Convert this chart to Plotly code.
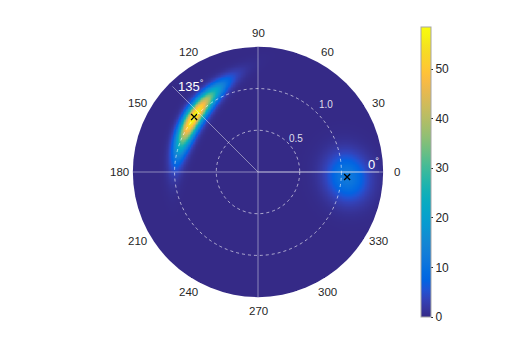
import numpy as np
import plotly.graph_objects as go

# peaks of the density (radius, angle in degrees, height)
peak_r = [1.01, 1.07]
peak_theta = [139.3, -3.2]
peak_value = [58.5, 12.0]
# spread of each peak: along its long axis, across it, long axis direction, bend
spread_long = [0.30, 0.20]
spread_cross = [0.068, 0.17]
spread_dir = [58.0, 105.0]
spread_bend = [0.3, 0.0]

ring_radii = [0.5, 1.0]
ring_labels = ["0.5", "1.0"]
angle_ticks = list(range(0, 360, 30))
marked_angles = [135, 0]
outer_r = 1.5

# parula (MATLAB) colormap
parula_rgb = [
    (0.2081, 0.1663, 0.5292), (0.2123, 0.2138, 0.6270), (0.1959, 0.2645, 0.7279),
    (0.1253, 0.3242, 0.8303), (0.0117, 0.3875, 0.8820), (0.0165, 0.4266, 0.8786),
    (0.0498, 0.4586, 0.8641), (0.0723, 0.4887, 0.8467), (0.0793, 0.5200, 0.8312),
    (0.0641, 0.5570, 0.8240), (0.0343, 0.5966, 0.8199), (0.0239, 0.6287, 0.8038),
    (0.0228, 0.6535, 0.7768), (0.0384, 0.6743, 0.7436), (0.0843, 0.6928, 0.7062),
    (0.1453, 0.7098, 0.6646), (0.2178, 0.7250, 0.6193), (0.3022, 0.7376, 0.5712),
    (0.3953, 0.7459, 0.5244), (0.4871, 0.7491, 0.4840), (0.5709, 0.7485, 0.4494),
    (0.6473, 0.7456, 0.4188), (0.7184, 0.7411, 0.3905), (0.7858, 0.7356, 0.3633),
    (0.8507, 0.7299, 0.3360), (0.9139, 0.7258, 0.3063), (0.9739, 0.7314, 0.2666),
    (0.9990, 0.7653, 0.2164), (0.9880, 0.8066, 0.1794), (0.9697, 0.8481, 0.1475),
    (0.9589, 0.8949, 0.1132), (0.9661, 0.9514, 0.0755), (0.9763, 0.9831, 0.0538),
]
k = len(parula_rgb) - 1
parula = [[i / k, "rgb(%d,%d,%d)" % tuple(round(c * 255) for c in rgb)]
          for i, rgb in enumerate(parula_rgb)]
bg = parula[0][1]

# density on a grid
g = np.linspace(-outer_r, outer_r, 401)
X, Y = np.meshgrid(g, g)
Z = np.zeros_like(X)
for r, th, h, sl, sc, d, b in zip(peak_r, peak_theta, peak_value,
                                  spread_long, spread_cross, spread_dir, spread_bend):
    cx, cy = r * np.cos(np.radians(th)), r * np.sin(np.radians(th))
    a = np.radians(d)
    u = (X - cx) * np.cos(a) + (Y - cy) * np.sin(a)
    v = -(X - cx) * np.sin(a) + (Y - cy) * np.cos(a) + b * u ** 2
    Z += h * np.exp(-0.5 * (u / sl) ** 2 - 0.5 * (v / sc) ** 2)
Z[np.hypot(X, Y) > outer_r - 0.01] = np.nan

# page body has an 8px margin, so the figure is 8px smaller
fig = go.Figure()
fig.add_trace(go.Heatmap(
    x=g, y=g, z=Z, colorscale=parula, zmin=0, zmax=max(peak_value),
    hoverinfo="skip",
    colorbar=dict(
        x=(413 - 104) / 292, xanchor="left", xpad=0,
        y=0.5, yanchor="middle", ypad=0, len=290 / 292, lenmode="fraction",
        thickness=10, outlinewidth=1, outlinecolor="#a6a6a6",
        tickvals=[0, 10, 20, 30, 40, 50], ticks="outside", ticklen=2,
        tickcolor="#262626", tickfont=dict(size=12, color="#262626"),
    ),
))

# peak markers
fig.add_trace(go.Scatter(
    x=[r * np.cos(np.radians(t)) for r, t in zip(peak_r, peak_theta)],
    y=[r * np.sin(np.radians(t)) for r, t in zip(peak_r, peak_theta)],
    mode="markers", hoverinfo="skip",
    marker=dict(symbol="x-thin", size=6, line=dict(width=1.3, color="black")),
))

shapes = [dict(type="circle", xref="x", yref="y", x0=-outer_r, y0=-outer_r,
               x1=outer_r, y1=outer_r, fillcolor=bg, line_width=0, layer="below")]
grid = "rgba(230,230,240,0.5)"
shapes += [dict(type="line", x0=-outer_r, y0=0, x1=outer_r, y1=0,
                line=dict(color=grid, width=1)),
           dict(type="line", x0=0, y0=-outer_r, x1=0, y1=outer_r,
                line=dict(color=grid, width=1))]
for rr in ring_radii:
    shapes.append(dict(type="circle", x0=-rr, y0=-rr, x1=rr, y1=rr,
                       line=dict(color="rgba(255,255,255,0.6)", width=1, dash="3px,3px")))
for ang in marked_angles:
    shapes.append(dict(type="line", x0=0, y0=0,
                       x1=1.45 * np.cos(np.radians(ang)), y1=1.45 * np.sin(np.radians(ang)),
                       line=dict(color=grid, width=1)))

ann = []
for ang in angle_ticks:
    ann.append(dict(x=1.665 * np.cos(np.radians(ang)), y=1.665 * np.sin(np.radians(ang)),
                    text=str(ang), showarrow=False,
                    font=dict(size=11.5, color="#262626")))
for (lx, ly), t in zip([(0.45, 0.40), (0.81, 0.81)], ring_labels):
    ann.append(dict(x=lx, y=ly, text=t, showarrow=False,
                    font=dict(size=10, color="rgba(255,255,255,0.85)")))
for (lx, ly), ang in zip([(-0.80, 1.03), (1.39, 0.10)], marked_angles):
    ann.append(dict(x=lx, y=ly, text="%d<sup>°</sup>" % ang, showarrow=False,
                    font=dict(size=13, color="white")))

fig.update_layout(
    width=519, height=349,
    margin=dict(l=104, r=123, t=18, b=39),
    paper_bgcolor="white", plot_bgcolor="white",
    font=dict(family="Liberation Sans"),
    showlegend=False,
    xaxis=dict(range=[-1.75, 1.75], visible=False),
    yaxis=dict(range=[-1.75, 1.75], visible=False),
    shapes=shapes, annotations=ann,
)

fig.write_html("out.html")
